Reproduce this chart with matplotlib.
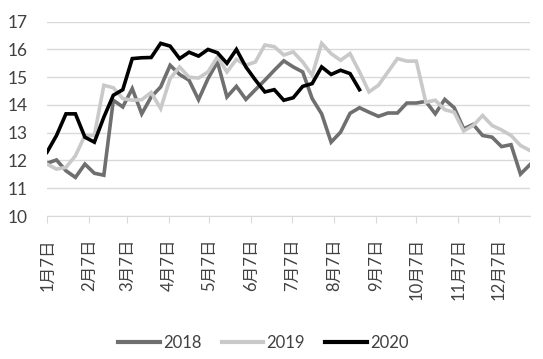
import pandas as pd
import matplotlib.pyplot as plt
from matplotlib.lines import Line2D

plt.rcParams['font.family'] = ['Lato', 'Noto Sans CJK SC', 'DejaVu Sans']

# weekly observations, plotted on a common calendar (starting 1月7日)
dates = pd.date_range('2018-01-07', periods=52, freq='7D')

v2018 = [11.90, 12.02, 11.63, 11.39, 11.87, 11.54, 11.47, 14.17, 13.93, 14.59,
         13.68, 14.29, 14.65, 15.43, 15.10, 14.89, 14.19, 14.95, 15.55, 14.29,
         14.67, 14.20, 14.55, 14.89, 15.25, 15.59, 15.37, 15.19, 14.23, 13.68,
         12.66, 13.02, 13.70, 13.90, 13.74, 13.59, 13.71, 13.71, 14.07, 14.07,
         14.13, 13.68, 14.20, 13.90, 13.14, 13.30, 12.90, 12.84, 12.50, 12.57,
         11.51, 11.85]

v2019 = [11.87, 11.69, 11.75, 12.17, 12.90, 12.90, 14.71, 14.62, 14.23, 14.17,
         14.19, 14.45, 13.87, 14.95, 15.37, 15.00, 14.97, 15.19, 15.73, 15.19,
         15.64, 15.43, 15.55, 16.16, 16.10, 15.80, 15.91, 15.55, 15.07, 16.22,
         15.85, 15.61, 15.85, 15.19, 14.47, 14.71, 15.19, 15.67, 15.58, 15.58,
         14.10, 14.17, 13.83, 13.74, 13.06, 13.26, 13.62, 13.26, 13.10, 12.90,
         12.54, 12.36]

v2020 = [12.30, 12.90, 13.68, 13.68, 12.84, 12.66, 13.56, 14.35, 14.55, 15.67,
         15.70, 15.71, 16.22, 16.12, 15.67, 15.90, 15.76, 16.00, 15.88, 15.50,
         16.00, 15.37, 14.90, 14.47, 14.55, 14.17, 14.26, 14.67, 14.77, 15.37,
         15.10, 15.25, 15.13, 14.55]

series = [('2018', v2018, '#6F6F6F'),
          ('2019', v2019, '#C9C9C9'),
          ('2020', v2020, '#000000')]

tick_dates = pd.to_datetime([f'2018-{m:02d}-07' for m in range(1, 13)])
tick_labels = [f'{m}月7日' for m in range(1, 13)]

fig = plt.figure(figsize=(5.43, 3.59), dpi=100)
ax = fig.add_axes([0.0866, 0.3983, 0.8894, 0.5413])

for name, vals, col in series:
    ax.plot(dates[:len(vals)], vals, color=col, linewidth=2.6, label=name,
            solid_joinstyle='miter')

ax.set_xlim(dates[0], dates[-1])
ax.set_ylim(10, 17)
ax.set_yticks(range(10, 18))
ax.grid(axis='y', color='#D9D9D9', linewidth=1)
ax.set_axisbelow(True)

for s in ['left', 'right', 'top']:
    ax.spines[s].set_visible(False)
ax.spines['bottom'].set_color('#D9D9D9')

ax.tick_params(axis='y', length=0, pad=14, labelsize=12.5, labelcolor='#404040')
ax.set_xticks(tick_dates)
ax.set_xticklabels(tick_labels, rotation=90, fontsize=12, color='#404040')
ax.tick_params(axis='x', length=5, color='#D9D9D9', pad=11)

handles = [Line2D([], [], color=c, linewidth=3) for _, _, c in series]
fig.legend(handles, [n for n, _, _ in series], loc='center',
           bbox_to_anchor=(0.485, 0.045), ncol=3, frameon=False,
           fontsize=12, handlelength=2.5, handletextpad=0.2,
           columnspacing=1.2, labelcolor='#404040')

plt.savefig('out.png', dpi=100)
plt.close()
